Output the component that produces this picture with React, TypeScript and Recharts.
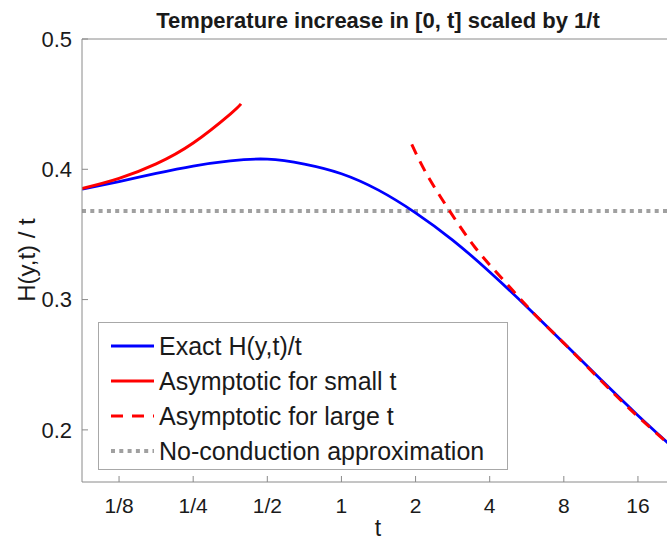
import React from 'react';
import { LineChart, Line, XAxis, YAxis, ReferenceLine, Legend, Label } from 'recharts';

// ---- data ----
const xTicks = [0.125, 0.25, 0.5, 1, 2, 4, 8, 16];
const xTickLabels = ['1/8', '1/4', '1/2', '1', '2', '4', '8', '16'];
const yTicks = [0.2, 0.3, 0.4, 0.5];
const xDomain = [0.08839, 22.627];
const yDomain = [0.16, 0.5];

const tExact = [0.0884, 0.125, 0.1768, 0.25, 0.3536, 0.5, 0.7071, 1, 1.414, 2, 2.828, 4, 5.657, 8, 11.31, 16, 22.63];
const hExact = [0.3847, 0.3906, 0.3968, 0.4025, 0.4065, 0.4078, 0.4040, 0.3966, 0.3840, 0.3666, 0.3457, 0.3212, 0.2945, 0.2666, 0.2386, 0.2111, 0.1850];

const tSmall = [0.0884, 0.125, 0.1768, 0.25, 0.3536, 0.391];
const hSmall = [0.3852, 0.3930, 0.4042, 0.4202, 0.4424, 0.4502];

const tLarge = [1.93, 2.22, 2.72, 3.49, 4.55, 6.03, 7.98, 12.73, 17.4, 22.63];
const hLarge = [0.4191, 0.3962, 0.3694, 0.3400, 0.3150, 0.2895, 0.2668, 0.2282, 0.2040, 0.1850];

const noConduction = 0.3679;

const seriesNames = ['Exact H(y,t)/t', 'Asymptotic for small t', 'Asymptotic for large t', 'No-conduction approximation'];

const exactData = tExact.map((t, i) => ({ t, h: hExact[i] }));
const smallData = tSmall.map((t, i) => ({ t, h: hSmall[i] }));
const largeData = tLarge.map((t, i) => ({ t, h: hLarge[i] }));

const FONT = '"Liberation Sans", Arial, Helvetica, sans-serif';
const AXIS = '#8a8a8a';
const TEXT = '#1a1a1a';

const legendItems = [
  { name: seriesNames[0], color: '#0000ff', dash: undefined as string | undefined, width: 3 },
  { name: seriesNames[1], color: '#ff0000', dash: undefined as string | undefined, width: 3 },
  { name: seriesNames[2], color: '#ff0000', dash: '12 9', width: 3 },
  { name: seriesNames[3], color: '#a0a0a0', dash: '4 4.3', width: 4 },
];

const renderLegend = () => (
  <div
    style={{
      width: 408,
      height: 146,
      border: '1px solid #a8a8a8',
      background: '#fff',
      fontFamily: FONT,
      fontSize: 25,
      color: TEXT,
      position: 'relative',
    }}
  >
    {legendItems.map((it, i) => (
      <div key={i} style={{ position: 'absolute', left: 0, top: 23 + i * 35 - 18, height: 36, display: 'flex', alignItems: 'center' }}>
        <svg width={60} height={36} style={{ display: 'block' }}>
          <line x1={12} y1={18} x2={55} y2={18} stroke={it.color} strokeWidth={it.width} strokeDasharray={it.dash} />
        </svg>
        <span style={{ whiteSpace: 'nowrap', lineHeight: '36px' }}>{it.name}</span>
      </div>
    ))}
  </div>
);

export default function App() {
  return (
    <div style={{ position: 'fixed', left: 0, top: 0, width: 667, height: 543, overflow: 'hidden', background: '#fff' }}>
      <div
        style={{
          position: 'absolute',
          left: 78,
          width: 600,
          top: 6,
          textAlign: 'center',
          fontFamily: FONT,
          fontWeight: 'bold',
          fontSize: 22,
          color: TEXT,
          lineHeight: '30px',
        }}
      >
        Temperature increase in [0, t] scaled by 1/t
      </div>
      <LineChart width={700} height={543} margin={{ top: 38, right: 25, bottom: 21, left: 22 }}>
        <XAxis
          dataKey="t"
          type="number"
          scale="log"
          domain={xDomain}
          allowDataOverflow
          ticks={xTicks}
          tickFormatter={(v: number) => xTickLabels[xTicks.indexOf(v)] ?? String(v)}
          tickSize={-6}
          tickMargin={22}
          height={40}
          stroke={AXIS}
          tick={{ fill: TEXT, fontSize: 21, fontFamily: FONT }}
          interval={0}
        >
          <Label
            content={() => (
              <text x={378} y={536} textAnchor="middle" fill={TEXT} fontSize={23} fontFamily={FONT}>
                t
              </text>
            )}
          />
        </XAxis>
        <XAxis
          xAxisId="top"
          orientation="top"
          type="number"
          scale="log"
          domain={xDomain}
          allowDataOverflow
          ticks={xTicks}
          tickSize={-6}
          height={1}
          stroke={AXIS}
          tick={false}
          interval={0}
        />
        <YAxis
          type="number"
          domain={yDomain}
          allowDataOverflow
          ticks={yTicks}
          tickFormatter={(v: number) => v.toFixed(1)}
          tickSize={-6}
          tickMargin={16}
          width={60}
          stroke={AXIS}
          tick={{ fill: TEXT, fontSize: 22, fontFamily: FONT }}
          interval={0}
        >
          <Label
            content={() => (
              <text
                x={26}
                y={260}
                transform="rotate(-90 26 260)"
                textAnchor="middle"
                dominantBaseline="central"
                fill={TEXT}
                fontSize={24}
                fontFamily={FONT}
              >
                H(y,t) / t
              </text>
            )}
          />
        </YAxis>
        <ReferenceLine y={noConduction} stroke="#a0a0a0" strokeWidth={4} strokeDasharray="4 4.3" ifOverflow="hidden" />
        <Line
          data={exactData}
          dataKey="h"
          name={seriesNames[0]}
          type="natural"
          stroke="#0000ff"
          strokeWidth={2.8}
          dot={false}
          isAnimationActive={false}
        />
        <Line
          data={smallData}
          dataKey="h"
          name={seriesNames[1]}
          type="natural"
          stroke="#ff0000"
          strokeWidth={3}
          dot={false}
          isAnimationActive={false}
        />
        <Line
          data={largeData}
          dataKey="h"
          name={seriesNames[2]}
          type="natural"
          stroke="#ff0000"
          strokeWidth={3}
          strokeDasharray="11 8"
          dot={false}
          isAnimationActive={false}
        />
        <Legend
          layout="vertical"
          align="center"
          verticalAlign="middle"
          content={renderLegend}
          wrapperStyle={{ position: 'absolute', left: 98, top: 322, width: 410, height: 148 }}
        />
      </LineChart>
    </div>
  );
}
